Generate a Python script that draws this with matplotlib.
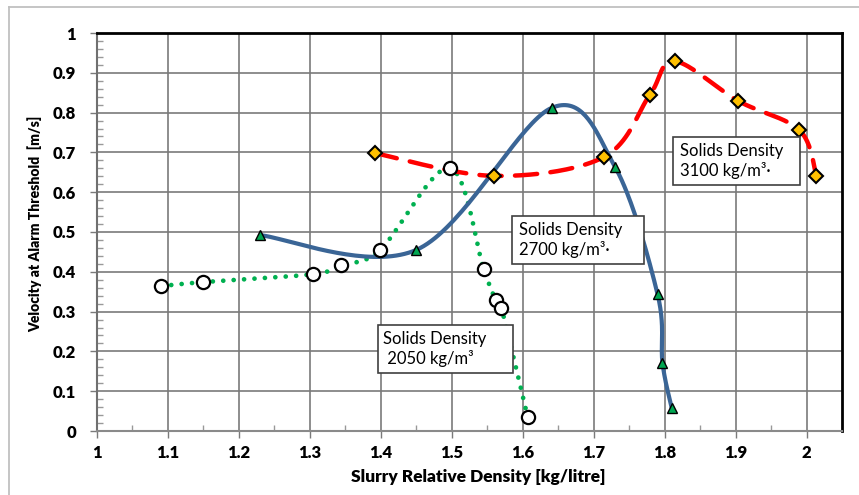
import numpy as np
import matplotlib
matplotlib.use("Agg")
import matplotlib.pyplot as plt
from matplotlib.patches import Rectangle
from matplotlib.lines import Line2D

# ---- data ----
x2050 = [1.090, 1.149, 1.304, 1.344, 1.399, 1.497, 1.545, 1.562, 1.570, 1.607]
y2050 = [0.364, 0.374, 0.394, 0.417, 0.455, 0.661, 0.407, 0.329, 0.309, 0.035]

x2700 = [1.230, 1.450, 1.641, 1.730, 1.790, 1.797, 1.810]
y2700 = [0.492, 0.455, 0.812, 0.664, 0.344, 0.171, 0.058]

x3100 = [1.392, 1.559, 1.714, 1.779, 1.814, 1.904, 1.990, 2.014]
y3100 = [0.698, 0.641, 0.688, 0.844, 0.929, 0.829, 0.756, 0.641]

xticks = [1, 1.1, 1.2, 1.3, 1.4, 1.5, 1.6, 1.7, 1.8, 1.9, 2]
xticklabels = ["1", "1.1", "1.2", "1.3", "1.4", "1.5", "1.6", "1.7", "1.8", "1.9", "2"]
yticks = [0, 0.1, 0.2, 0.3, 0.4, 0.5, 0.6, 0.7, 0.8, 0.9, 1]
yticklabels = ["0", "0.1", "0.2", "0.3", "0.4", "0.5", "0.6", "0.7", "0.8", "0.9", "1"]

labels = ["Solids Density\n 2050 kg/m³", "Solids Density\n2700 kg/m³·", "Solids Density\n3100 kg/m³·"]


def smooth(xs, ys, n=40):
    """Excel-like smoothed line (Catmull-Rom Bezier) through the points."""
    P = np.column_stack([xs, ys]).astype(float)
    m = len(P)
    t = np.linspace(0, 1, n)[:, None]
    out = []
    for i in range(m - 1):
        p0 = P[i - 1] if i > 0 else P[i]
        p3 = P[i + 2] if i + 2 < m else P[i + 1]
        a, d = P[i], P[i + 1]
        b = a + (d - p0) / 6.0
        c = d - (p3 - a) / 6.0
        seg = ((1 - t) ** 3) * a + 3 * ((1 - t) ** 2) * t * b + 3 * (1 - t) * t ** 2 * c + t ** 3 * d
        out.append(seg if i == 0 else seg[1:])
    s = np.vstack(out)
    return s[:, 0], s[:, 1]


plt.rcParams['font.family'] = ['Lato', 'DejaVu Sans']

fig = plt.figure(figsize=(8.59, 4.95), dpi=100)
W, H = 859, 495
ax = fig.add_axes([97 / W, 1 - 431 / H, (842 - 97) / W, (431 - 33) / H])

ax.set_xlim(1, 2.05)
ax.set_ylim(0, 1)

grid_c = "#7a7a7a"
ax.set_xticks(xticks)
ax.set_xticklabels(xticklabels)
ax.set_yticks(yticks)
ax.set_yticklabels(yticklabels)
ax.set_xticks(np.arange(1.05, 2.05, 0.1), minor=True)
ax.set_yticks(np.arange(0.02, 1.0, 0.02), minor=True)
ax.grid(True, which='major', color=grid_c, linewidth=1.2, zorder=0)
ax.set_axisbelow(True)

ax.tick_params(axis='both', which='major', direction='out', length=5, color=grid_c,
               width=1, labelsize=12)
ax.tick_params(axis='both', which='minor', direction='in', length=4, color="#999999", width=1)
ax.tick_params(axis='x', which='major', pad=5)
ax.tick_params(axis='y', which='major', pad=10)
for lab in ax.get_xticklabels() + ax.get_yticklabels():
    lab.set_fontweight('heavy')

ax.spines['left'].set_color("#707070")
ax.spines['bottom'].set_color("#8a8a8a")
ax.spines['left'].set_linewidth(1.5)
ax.spines['bottom'].set_linewidth(1.5)
ax.spines['top'].set_color("black")
ax.spines['right'].set_color("black")
ax.spines['top'].set_linewidth(2)
ax.spines['right'].set_linewidth(2)

# 2050 series: green dotted smooth line, open circles
sx, sy = smooth(x2050, y2050)
ax.plot(sx, sy, color="#00B050", linewidth=3.4, linestyle=(0, (0.01, 2.2)),
        dash_capstyle='round', zorder=3)
ax.plot(x2050, y2050, linestyle='none', marker='o', markersize=9.5,
        markerfacecolor='white', markeredgecolor='black', markeredgewidth=1.6, zorder=6)

# 2700 series: blue smooth line, green triangles
sx, sy = smooth(x2700, y2700)
ax.plot(sx, sy, color="#3A6596", linewidth=3.0, solid_capstyle='butt', zorder=4)
ax.plot(x2700, y2700, linestyle='none', marker='^', markersize=7,
        markerfacecolor='#00A651', markeredgecolor='black', markeredgewidth=1.0, zorder=6)

# 3100 series: red dashed smooth line, orange diamonds
sx, sy = smooth(x3100, y3100)
ax.plot(sx, sy, color="#FF0000", linewidth=3.2, linestyle=(0, (5, 3)),
        dash_capstyle='round', zorder=5)
ax.plot(x3100, y3100, linestyle='none', marker='D', markersize=7.5,
        markerfacecolor='#FFC000', markeredgecolor='black', markeredgewidth=1.5, zorder=7)


# text boxes (pixel layout converted to data coordinates)
def px2data(px, py):
    return 1 + (px - 97) / 710.0, (431 - py) / 398.0


boxes = [((378, 325, 513, 373), (383, 349)),
         ((512, 216, 644, 264), (519, 240)),
         ((673, 137, 800, 185), (680, 161))]
for ((bx0, by0, bx1, by1), (tx, ty)), txt in zip(boxes, labels):
    x0, y0 = px2data(bx0, by1)
    x1, y1 = px2data(bx1, by0)
    ax.add_patch(Rectangle((x0, y0), x1 - x0, y1 - y0, facecolor='white',
                           edgecolor='#404040', linewidth=1.2, zorder=10))
    tdx, tdy = px2data(tx, ty)
    ax.text(tdx, tdy, txt, ha='left', va='center', fontsize=12, linespacing=1.2,
            color='black', zorder=11)

# axis titles
fig.text(478 / W, 1 - 477 / H, "Slurry Relative Density [kg/litre]", ha='center', va='center',
         fontsize=12.5, fontweight='heavy')
fig.text(35 / W, 1 - 224 / H, "Velocity at Alarm Threshold  [m/s]", ha='center', va='center',
         rotation=90, fontsize=10, fontweight='heavy')

# outer chart border (partially visible)
fig.add_artist(Line2D([9 / W, 9 / W], [0, 1 - 7 / H], transform=fig.transFigure,
                      color='#c0c0c0', linewidth=1.3))
fig.add_artist(Line2D([9 / W, 1], [1 - 7 / H, 1 - 7 / H], transform=fig.transFigure,
                      color='#c0c0c0', linewidth=1.3))

fig.savefig("out.png", dpi=100)
